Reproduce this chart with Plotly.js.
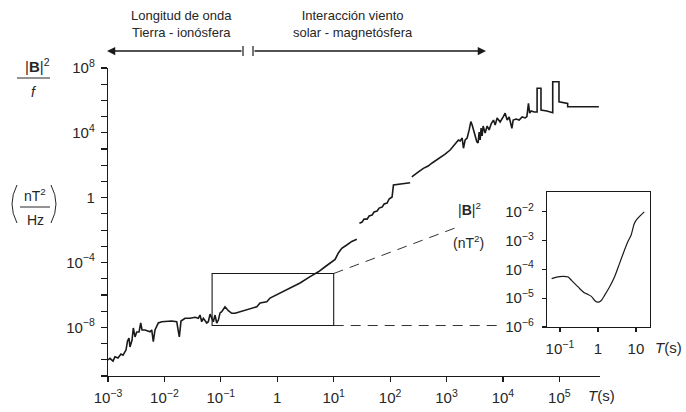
<!DOCTYPE html>
<html>
<head>
<meta charset="utf-8">
<script src="https://cdn.plot.ly/plotly-3.0.1.min.js"></script>
<style>
  html, body { margin: 0; padding: 0; background: #fff; }
  #chart { width: 686px; height: 412px; }
</style>
</head>
<body>
<div id="chart"></div>
<script>
// Geomagnetic power spectrum |B|^2/f versus period T, with an inset of |B|^2
// for the 0.1–10 s band. Values are stored as base-10 exponents; null marks a
// break between separately measured pieces of the spectrum.

// log10 of period T (s)
const periodExp = [
  -3.000, -2.965, -2.911, -2.876, -2.823, -2.770, -2.734, -2.681, -2.654, -2.628,
  -2.610, -2.574, -2.551, -2.521, -2.491, -2.450, -2.420, -2.397, -2.344, -2.255,
  -2.225, -2.197, -2.167, -2.108, -2.048, -1.959, -1.871, -1.782, -1.736, -1.706,
  -1.635, -1.546, -1.457, -1.399, -1.369, -1.339, -1.310, -1.250, -1.222, -1.191,
  -1.161, -1.133, -1.103, -1.073, -1.044, -1.014, -0.984, -0.926, -0.867, -0.807,
  -0.748, -0.660, -0.541, -0.482, -0.363, -0.305, -0.186, -0.128, 0.103, 0.227,
  0.404, 0.582, 0.729, 0.848, 0.966, 1.025, 1.083, 1.144, 1.232, 1.321, 1.410,
  null,
  1.456, 1.504, 1.539, 1.592, 1.628, 1.681, 1.716, 1.770, 1.805, 1.858,
  1.894, 1.947, 1.982, 2.035, 2.059, 2.177, 2.355,
  null,
  2.385, 2.443, 2.496, 2.590, 2.674, 2.745, 2.828, 2.904, 2.975, 3.064,
  3.117, 3.152, 3.211, 3.241, 3.277, 3.300, 3.330, 3.365, 3.401, 3.431,
  3.454, 3.489, 3.507, 3.537, 3.560, 3.578, 3.596, 3.613, 3.631, 3.649,
  3.684, 3.720, 3.755, 3.791, 3.832, 3.862, 3.897, 3.950, 4.004, 4.039,
  4.074, 4.110, 4.158, 4.181, 4.234, 4.287, 4.340, 4.394, 4.424, 4.452,
  4.473, 4.500, 4.553, 4.605, 4.605, 4.674, 4.674, 4.778, 4.882, 4.882,
  4.993, 4.993, 5.147, 5.147, 5.440, 5.700
];

// log10 of |B|^2/f (nT^2/Hz)
const powerExp = [
  -10.01, -9.91, -10.08, -9.81, -9.89, -9.64, -9.71, -9.40, -8.84, -8.66,
  -9.21, -8.78, -8.04, -8.59, -8.29, -8.29, -7.73, -8.16, -8.16, -8.27,
  -8.16, -8.88, -8.16, -7.73, -7.65, -7.61, -7.61, -7.65, -8.59, -7.61,
  -7.44, -7.44, -7.38, -7.44, -7.24, -7.65, -7.44, -7.73, -7.65, -7.18,
  -7.44, -7.65, -7.24, -7.73, -7.55, -7.11, -7.03, -6.73, -6.97, -7.13,
  -7.13, -7.03, -6.93, -6.82, -6.73, -6.50, -6.42, -6.19, -5.79, -5.57,
  -5.26, -4.87, -4.57, -4.26, -3.95, -3.81, -3.41, -3.12, -2.92, -2.70, -2.57,
  null,
  -1.58, -1.50, -1.32, -1.32, -1.13, -1.07, -0.88, -0.82, -0.64, -0.58,
  -0.39, -0.33, -0.08, 0.04, 0.78, 0.84, 0.92,
  null,
  1.28, 1.46, 1.58, 1.81, 1.95, 2.14, 2.32, 2.51, 2.69, 2.94,
  3.13, 3.31, 3.56, 3.50, 3.68, 3.05, 3.56, 3.68, 4.18, 4.69,
  4.48, 4.05, 3.68, 3.45, 3.37, 4.05, 3.56, 4.30, 3.81, 4.42,
  3.99, 4.42, 4.18, 4.55, 4.79, 4.48, 4.92, 4.67, 4.98, 5.21,
  4.79, 4.98, 4.28, 4.79, 4.85, 4.79, 4.98, 4.92, 5.00, 5.82,
  5.22, 5.35, 5.29, 5.29, 6.75, 6.75, 5.41, 5.35, 5.24, 7.15,
  7.15, 5.92, 5.82, 5.61, 5.61, 5.61
];

// Inset: log10 of period T (s) and of |B|^2 (nT^2)
const insetPeriodExp = [
  -1.217, -1.086, -0.914, -0.783, -0.695, -0.564, -0.478, -0.347, -0.261, -0.172,
  -0.086, 0.000, 0.089, 0.175, 0.305, 0.436, 0.567, 0.697, 0.783, 0.872,
  0.958, 1.044, 1.219
];
const insetPowerExp = [
  -4.321, -4.265, -4.240, -4.265, -4.380, -4.554, -4.669, -4.822, -4.868, -4.937,
  -5.077, -5.136, -5.077, -4.902, -4.613, -4.265, -3.798, -3.334, -3.045, -2.812,
  -2.404, -2.230, -2.000
];

// Band of the main spectrum shown enlarged in the inset
const zoomPeriod = [0.07, 10];
const zoomPower = [1.3e-8, 2.1e-5];

// Axis ticks
const mainXTicks = [1e-3, 1e-2, 1e-1, 1, 1e1, 1e2, 1e3, 1e4, 1e5];
const mainXLabels = ['10<sup>−3</sup>', '10<sup>−2</sup>', '10<sup>−1</sup>', '1',
  '10<sup>1</sup>', '10<sup>2</sup>', '10<sup>3</sup>', '10<sup>4</sup>', '10<sup>5</sup>'];
const mainYExp = [8, 7, 6, 5, 4, 3, 2, 1, 0, -1, -2, -3, -4, -5, -6, -7, -8, -9, -10, -11];
const mainYLabelled = { 8: '10<sup>8</sup>', 4: '10<sup>4</sup>', 0: '1', '-4': '10<sup>−4</sup>', '-8': '10<sup>−8</sup>' };
const insetXTicks = [0.1, 1, 10];
const insetXLabels = ['10<sup>−1</sup>', '1', '10'];
const insetYTicks = [1e-2, 1e-3, 1e-4, 1e-5, 1e-6];
const insetYLabels = ['10<sup>−2</sup>', '10<sup>−3</sup>', '10<sup>−4</sup>', '10<sup>−5</sup>', '10<sup>−6</sup>'];

const pow10 = v => (v === null ? null : Math.pow(10, v));

// Page geometry (pixels) used to place the free-standing labels
const W = 686, H = 412, ML = 108, MR = 36, MT = 68, MB = 36;
const plotW = W - ML - MR, plotH = H - MT - MB;
const px = x => (x - ML) / plotW;
const py = y => (H - MB - y) / plotH;
const pt = (x, y) => px(x).toFixed(4) + ',' + py(y).toFixed(4);

const FONT = 'Liberation Sans, Arial, Helvetica, sans-serif';
const INK = '#1a1a1a';
const TXT = '#262626';

// free-standing label, centred on a page position
const label = (x, y, text, size) => ({
  xref: 'paper', yref: 'paper', x: px(x), y: py(y), xanchor: 'center', yanchor: 'middle',
  showarrow: false, text: text, align: 'center',
  font: { family: FONT, size: size, color: TXT }
});

const traces = [
  {
    x: periodExp.map(pow10), y: powerExp.map(pow10),
    xaxis: 'x', yaxis: 'y', type: 'scatter', mode: 'lines',
    line: { color: INK, width: 1.6 }, connectgaps: false, hoverinfo: 'skip'
  },
  {
    x: insetPeriodExp.map(pow10), y: insetPowerExp.map(pow10),
    xaxis: 'x2', yaxis: 'y2', type: 'scatter', mode: 'lines',
    line: { color: INK, width: 1.2, shape: 'spline', smoothing: 0.6 }, hoverinfo: 'skip'
  }
];

const axisCommon = {
  type: 'log', showline: true, linecolor: INK, linewidth: 1.2,
  ticks: 'outside', tickcolor: INK, tickwidth: 1.2, showgrid: false, zeroline: false,
  tickmode: 'array', fixedrange: true,
  tickfont: { family: FONT, size: 15, color: TXT }
};

const layout = {
  width: W, height: H,
  margin: { l: ML, r: MR, t: MT, b: MB, pad: 0 },
  paper_bgcolor: '#fff', plot_bgcolor: 'rgba(0,0,0,0)',
  showlegend: false,
  font: { family: FONT, color: TXT },
  xaxis: Object.assign({}, axisCommon, {
    domain: [0, px(600)], range: [-3, 5.72], anchor: 'y',
    tickvals: mainXTicks, ticktext: mainXLabels, ticklen: 5, ticklabelstandoff: 3
  }),
  yaxis: Object.assign({}, axisCommon, {
    domain: [0, 1], range: [-11, 8], anchor: 'x',
    tickvals: mainYExp.map(pow10), ticktext: mainYExp.map(e => mainYLabelled[e] || ''),
    ticklen: 6, ticklabelstandoff: 3
  }),
  xaxis2: Object.assign({}, axisCommon, {
    domain: [px(547), px(650)], range: [-1.34, 1.37], anchor: 'y2', mirror: true,
    tickvals: insetXTicks, ticktext: insetXLabels, ticklen: 4, ticklabelstandoff: 4
  }),
  yaxis2: Object.assign({}, axisCommon, {
    domain: [py(327), py(192)], range: [-6, -1.31], anchor: 'x2', mirror: true,
    tickvals: insetYTicks, ticktext: insetYLabels, ticklen: 4, ticklabelstandoff: 5
  }),
  shapes: [
    // zoomed band on the main spectrum
    { type: 'rect', xref: 'x', yref: 'y', x0: zoomPeriod[0], x1: zoomPeriod[1],
      y0: zoomPower[0], y1: zoomPower[1], line: { color: INK, width: 1.1 } },
    // dashed leaders toward the inset
    { type: 'line', xref: 'x', yref: 'y', x0: zoomPeriod[1], y0: zoomPower[1], x1: 1420, y1: 0.0135,
      line: { color: '#333', width: 1, dash: '10px,7px' } },
    { type: 'line', xref: 'x', yref: 'y', x0: zoomPeriod[1], y0: zoomPower[0], x1: 8200, y1: zoomPower[0],
      line: { color: '#333', width: 1, dash: '10px,7px' } },
    // arrow end bars in the header
    { type: 'line', xref: 'paper', yref: 'paper', x0: px(243), x1: px(243), y0: py(46), y1: py(56),
      line: { color: INK, width: 1.2 } },
    { type: 'line', xref: 'paper', yref: 'paper', x0: px(253), x1: px(253), y0: py(46), y1: py(56),
      line: { color: INK, width: 1.2 } },
    // fraction bars of the y-axis unit
    { type: 'line', xref: 'paper', yref: 'paper', x0: px(17), x1: px(50), y0: py(78), y1: py(78),
      line: { color: TXT, width: 1 } },
    { type: 'line', xref: 'paper', yref: 'paper', x0: px(20), x1: px(50), y0: py(207), y1: py(207),
      line: { color: TXT, width: 1 } },
    // parentheses around nT^2/Hz
    { type: 'path', xref: 'paper', yref: 'paper',
      path: 'M' + pt(17, 185) + ' Q' + pt(7, 204) + ' ' + pt(17, 223), line: { color: TXT, width: 1 } },
    { type: 'path', xref: 'paper', yref: 'paper',
      path: 'M' + pt(51, 185) + ' Q' + pt(61, 204) + ' ' + pt(51, 223), line: { color: TXT, width: 1 } }
  ],
  annotations: [
    label(181, 24, 'Longitud de onda<br>Tierra - ionósfera', 13),
    label(353, 24, 'Interacción viento<br>solar - magnetósfera', 13),
    { xref: 'paper', yref: 'paper', x: px(107), y: py(51), text: '', showarrow: true,
      ax: 136, ay: 0, arrowhead: 2, arrowsize: 1.1, arrowwidth: 1.5, arrowcolor: INK },
    { xref: 'paper', yref: 'paper', x: px(486), y: py(51), text: '', showarrow: true,
      ax: -233, ay: 0, arrowhead: 2, arrowsize: 1.1, arrowwidth: 1.5, arrowcolor: INK },
    label(37, 66, '|<b>B</b>|<sup>2</sup>', 15),
    label(34, 92, '<i>f</i>', 14),
    label(35, 195, 'nT<sup>2</sup>', 14),
    label(35, 220, 'Hz', 14),
    label(601, 395, '<i>T</i>(s)', 15),
    label(469, 209, '|<b>B</b>|<sup>2</sup>', 14),
    label(468, 242, '(nT<sup>2</sup>)', 14),
    label(668, 347, '<i>T</i>(s)', 15)
  ]
};

Plotly.newPlot('chart', traces, layout, { displayModeBar: false, staticPlot: true });
</script>
</body>
</html>
